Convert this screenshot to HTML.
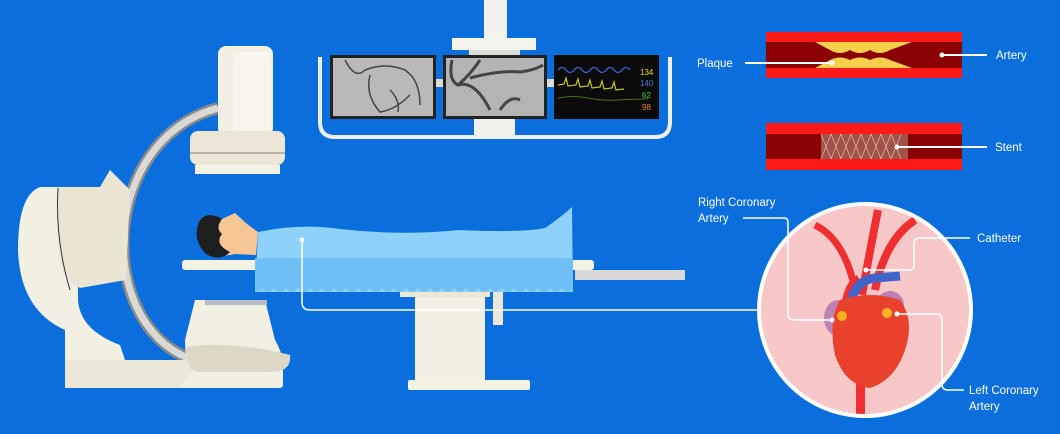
<!DOCTYPE html>
<html><head><meta charset="utf-8"><style>
html,body{margin:0;padding:0;background:#0a6fdc;}
svg{display:block}
text{font-family:"Liberation Sans",sans-serif;fill:#fff;font-size:11.5px}
</style></head><body>
<svg width="1060" height="434" viewBox="0 0 1060 434" xmlns="http://www.w3.org/2000/svg">
<rect width="1060" height="434" fill="#0a6fdc"/>
<!-- ceiling mount -->
<rect x="484" y="0" width="23" height="52" fill="#f1f1ee"/>
<rect x="452" y="38" width="84" height="12" fill="#f4f4f0"/>
<rect x="469" y="50" width="51" height="8" fill="#dcdcd8"/>
<path d="M320,57 V122 Q320,137 335,137 H655 Q670,137 670,122 V57" fill="none" stroke="#eeeeea" stroke-width="4"/>
<rect x="474" y="115" width="41" height="20" fill="#f1f1ee"/>
<rect x="430" y="79" width="130" height="8" fill="#dcdcd8"/>
<!-- screens -->
<rect x="330" y="55" width="106" height="64" fill="#222"/>
<rect x="333" y="58" width="100" height="58" fill="#b9b9b9"/>
<path d="M345,60 Q355,80 365,70 Q385,62 405,70 Q420,80 420,105 M370,75 Q365,95 380,112 Q395,110 410,95 M390,90 Q400,100 398,112" stroke="#444" stroke-width="1.5" fill="none"/>
<rect x="443" y="55" width="104" height="64" fill="#222"/>
<rect x="446" y="58" width="98" height="58" fill="#b4b4b4"/>
<path d="M452,60 Q448,80 458,85 Q470,75 480,60 M458,85 Q475,80 490,110 M470,78 Q500,70 520,72 Q535,70 543,65 M500,110 Q510,95 520,100" stroke="#444" stroke-width="3" fill="none"/>
<rect x="554" y="55" width="105" height="64" fill="#0b0b0b"/>
<path d="M558,70 q4,-5 8,0 q4,5 8,0 q4,-5 8,0 q4,5 8,0 q4,-5 8,0 q4,5 8,0 q4,-5 8,0 q4,5 8,0 q4,-5 8,0" stroke="#3b63d0" fill="none" stroke-width="1.3"/>
<path d="M558,85 l6,-1 l2,-6 l2,8 l8,-1 l2,-6 l2,8 l8,-1 l2,-6 l2,8 l8,-1 l2,-6 l2,8 l8,-1 l2,-6 l2,8 l8,-1" stroke="#c8c820" fill="none" stroke-width="1.2"/>
<path d="M558,98 q15,-3 30,0 t30,2 t30,-1" stroke="#4a6d1a" fill="none"/>
<text x="640" y="75" style="font-size:8px;fill:#e8e020">134</text>
<text x="640" y="86" style="font-size:8px;fill:#4e7be0">140</text>
<text x="642" y="98" style="font-size:8px;fill:#3ad040">62</text>
<text x="642" y="110" style="font-size:8px;fill:#f08020">98</text>
<!-- C-arm -->
<path d="M218,108 C100,140 95,320 188,358" fill="none" stroke="#8b8b8b" stroke-width="12"/>
<path d="M218,108 C100,140 95,320 188,358" fill="none" stroke="#d9d9d5" stroke-width="7"/>
<rect x="218" y="46" width="55" height="90" rx="8" fill="#f2efe3"/>
<rect x="233" y="52" width="38" height="82" rx="6" fill="#f7f5ec"/>
<rect x="190" y="131" width="95" height="34" rx="8" fill="#ece7d6"/>
<rect x="190" y="152" width="95" height="2" fill="#b8b3a3"/>
<rect x="195" y="165" width="85" height="9" fill="#f4f1e5"/>
<path d="M40,187 H78 L78,300 Q80,330 120,345 L125,360 H65 L65,330 Q20,310 18,250 Q18,195 40,187Z" fill="#f2efe3"/>
<path d="M58,187 H100 L110,170 L130,190 L126,280 L80,288 Q58,280 58,240Z" fill="#ebe6d4"/>
<path d="M58,188 Q55,240 70,290" stroke="#333" stroke-width="1" fill="none"/>
<rect x="65" y="360" width="218" height="28" rx="3" fill="#f2efe3"/>
<path d="M65,360 H200 L180,388 H65Z" fill="#ece8d8"/>
<path d="M195,300 H265 L275,340 Q292,370 270,372 H200 Q185,372 185,340Z" fill="#f2efe3"/>
<rect x="205" y="300" width="62" height="5" fill="#b9bcc2"/>
<path d="M186,347 Q230,340 290,355 Q292,372 270,372 H200 Q186,372 186,347Z" fill="#ddd8c6"/>
<!-- table -->
<rect x="182" y="260" width="412" height="10" rx="3" fill="#f4f1e5"/>
<rect x="575" y="270" width="110" height="10" fill="#d8d8d8"/>
<rect x="400" y="285" width="90" height="12" fill="#ece7d6"/>
<rect x="415" y="297" width="70" height="84" fill="#f2efe3"/>
<rect x="493" y="290" width="10" height="35" fill="#ece7d6"/>
<rect x="408" y="380" width="122" height="10" rx="2" fill="#f4f1e5"/>
<!-- patient -->
<path d="M200,225 Q206,214 222,219 L235,213 L247,224 L258,232 L256,255 L235,254 Q220,258 205,252 Q195,240 200,225Z" fill="#f7c695"/>
<path d="M199,222 Q206,210 222,219 Q215,228 222,234 Q214,244 230,252 Q220,262 206,254 Q192,240 199,222Z" fill="#1e1e1e"/>
<path d="M258,232 Q300,223 340,229 Q400,236 460,230 Q520,233 545,228 Q560,218 572,207 L573,292 L255,292Z" fill="#8ed2fb"/>
<path d="M255,258 H573 V288 Q568,296 562,288 Q556,296 550,288 Q544,296 538,288 Q532,296 526,288 Q520,296 514,288 Q508,296 502,288 Q496,296 490,288 Q484,296 478,288 Q472,296 466,288 Q460,296 454,288 Q448,296 442,288 Q436,296 430,288 Q424,296 418,288 Q412,296 406,288 Q400,296 394,288 Q388,296 382,288 Q376,296 370,288 Q364,296 358,288 Q352,296 346,288 Q340,296 334,288 Q328,296 322,288 Q316,296 310,288 Q304,296 298,288 Q292,296 286,288 Q280,296 274,288 Q268,296 262,288 Q258,294 255,288Z" fill="#70c0f6"/>
<!-- connector -->
<circle cx="302" cy="240" r="2.5" fill="#fff"/>
<path d="M302,240 V302 Q302,310 310,310 H762" fill="none" stroke="#fff" stroke-width="1.5"/>
<!-- arteries -->
<rect x="766" y="32" width="196" height="46" fill="#ff1a1a"/>
<rect x="766" y="42" width="196" height="26" fill="#8b0000"/>
<path d="M815,42 L912,42 L890,50 Q880,56 870,50 Q860,56 850,50 Q840,56 830,50Z" fill="#f8d14a"/>
<path d="M815,68 L912,68 L890,60 Q880,55 870,60 Q860,55 850,60 Q840,55 830,60Z" fill="#f8d14a"/>
<rect x="766" y="123" width="196" height="47" fill="#ff1a1a"/>
<rect x="766" y="134" width="196" height="25" fill="#8b0000"/>
<rect x="821" y="134" width="87" height="25" fill="#a0524a"/>
<path d="M821,134 l10,25 m0,-25 l10,25 m0,-25 l10,25 m0,-25 l10,25 m0,-25 l10,25 m0,-25 l10,25 m0,-25 l10,25 m0,-25 l10,25 M831,134 l-10,25 m20,-25 l-10,25 m20,-25 l-10,25 m20,-25 l-10,25 m20,-25 l-10,25 m20,-25 l-10,25 m20,-25 l-10,25 m20,-25 l-10,25" stroke="#e8c0a0" stroke-width="0.7"/>
<text x="697" y="67">Plaque</text>
<path d="M745,63 H832" stroke="#fff" stroke-width="2"/><circle cx="832" cy="63" r="2.5" fill="#fff"/>
<text x="996" y="59">Artery</text>
<path d="M942,55 H987" stroke="#fff" stroke-width="2"/><circle cx="942" cy="55" r="2.5" fill="#fff"/>
<text x="995" y="151">Stent</text>
<path d="M897,147 H987" stroke="#fff" stroke-width="2"/><circle cx="897" cy="147" r="2.5" fill="#fff"/>
<!-- heart circle -->
<circle cx="865" cy="310" r="106" fill="#f8c8c8" stroke="#fff" stroke-width="4"/>
<clipPath id="c"><circle cx="865" cy="310" r="104"/></clipPath>
<g clip-path="url(#c)">
<path d="M815,225 Q845,240 855,290" stroke="#f03030" stroke-width="7" fill="none"/>
<path d="M878,210 Q870,250 862,295" stroke="#f03030" stroke-width="8" fill="none"/>
<path d="M915,220 Q885,240 875,290" stroke="#f03030" stroke-width="8" fill="none"/>
<path d="M860,280 Q845,290 848,320" stroke="#f03030" stroke-width="12" fill="none"/>
<rect x="856" y="370" width="9" height="50" fill="#f03030"/>
<path d="M850,305 Q855,280 875,278 L900,276" stroke="#4065c8" stroke-width="9" fill="none"/>
<ellipse cx="838" cy="318" rx="14" ry="18" fill="#c080b8"/>
<ellipse cx="890" cy="305" rx="14" ry="14" fill="#c080b8"/>
<path d="M840,300 Q870,290 900,300 Q915,320 905,350 Q895,380 870,388 Q845,385 835,355 Q828,320 840,300Z" fill="#e8422c"/>
<circle cx="842" cy="316" r="5" fill="#ffb020"/><circle cx="887" cy="313" r="5" fill="#ffb020"/>
</g>
<text x="698" y="206">Right Coronary</text>
<text x="698" y="222">Artery</text>
<path d="M743,218 H784 Q788,218 788,222 V314 Q788,320 794,320 H832" fill="none" stroke="#fff" stroke-width="1.5"/><circle cx="832" cy="320" r="2.5" fill="#fff"/>
<text x="977" y="242">Catheter</text>
<path d="M970,238 H920 Q914,238 914,244 V266 Q914,270 908,270 H866" fill="none" stroke="#fff" stroke-width="1.5"/><circle cx="866" cy="270" r="2.5" fill="#fff"/>
<text x="969" y="394">Left Coronary</text>
<text x="969" y="410">Artery</text>
<path d="M964,390 H948 Q942,390 942,384 V320 Q942,314 936,314 H897" fill="none" stroke="#fff" stroke-width="1.5"/><circle cx="897" cy="314" r="2.5" fill="#fff"/>
</svg>
</body></html>
